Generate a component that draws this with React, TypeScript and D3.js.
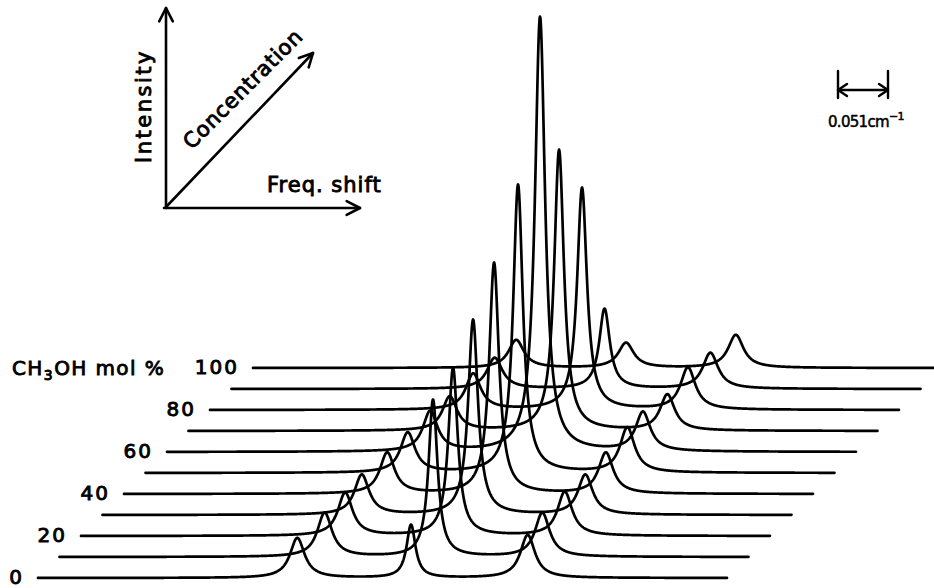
import React from "react";
import * as d3 from "d3";

// ---- data (frequency in cm^-1, intensity in arbitrary units) ----
const concentrations = [0, 10, 20, 30, 40, 50, 60, 70, 80, 90, 100];
const labeledConcentrations = [0, 20, 40, 60, 80, 100];
const rayleighShift = [0, 0.0005, -0.001, -0.0025, -0.003, -0.0005, 0, -0.0025, -0.001, 0, 0];
const rayleighHeight = [53, 157, 168, 195, 231, 288, 435, 281, 222, 80, 25];
const rayleighHwhm = [0.0055, 0.0055, 0.0058, 0.006, 0.006, 0.006, 0.0062, 0.006, 0.006, 0.0065, 0.0095];
const brillouinLeftShift = [-0.116, -0.110, -0.111, -0.116, -0.112, -0.113, -0.112, -0.114, -0.112, -0.112, -0.112];
const brillouinRightShift = [0.119, 0.112, 0.113, 0.112, 0.111, 0.111, 0.105, 0.108, 0.107, 0.108, 0.112];
const brillouinLeftHeight = [40, 44, 43, 40, 41, 40, 40, 34, 36, 31, 28];
const brillouinRightHeight = [43, 44, 44, 40, 41, 45, 39, 36, 42, 36, 33];
const brillouinHwhm = [0.009, 0.009, 0.009, 0.009, 0.009, 0.009, 0.009, 0.009, 0.0092, 0.0095, 0.0095];
const freqDomain = [-0.3805, 0.3223];
const scaleBarValue = 0.051;

const W = 934;
const H = 588;
const FONT = "'DejaVu Sans', sans-serif";

const freqScale = d3.scaleLinear().domain(freqDomain).range([38, 727]);
const depthX = d3.scaleLinear().domain([0, 100]).range([0, 215]);
const depthY = d3.scaleLinear().domain([0, 100]).range([578, 368]);
const intensityScale = d3.scaleLinear().domain([0, 450]).range([0, 450]);

const lorentz = (f: number, c: number, h: number, g: number) => h / (1 + ((f - c) / g) ** 2);

function spectrumPath(i: number) {
  const conc = concentrations[i];
  const x0 = depthX(conc);
  const base = depthY(conc);
  const pts: [number, number][] = [];
  const step = 0.0004;
  for (let f = freqDomain[0]; f <= freqDomain[1] + 1e-9; f += step) {
    const I =
      lorentz(f, rayleighShift[i], rayleighHeight[i], rayleighHwhm[i]) +
      lorentz(f, brillouinLeftShift[i], brillouinLeftHeight[i], brillouinHwhm[i]) +
      lorentz(f, brillouinRightShift[i], brillouinRightHeight[i], brillouinHwhm[i]);
    pts.push([freqScale(f) + x0, base - intensityScale(I)]);
  }
  return d3.line()(pts) as string;
}

function Arrow({ x1, y1, x2, y2 }: { x1: number; y1: number; x2: number; y2: number }) {
  const ang = Math.atan2(y2 - y1, x2 - x1);
  const L = 15;
  const a = (27 * Math.PI) / 180;
  const w1 = [x2 - L * Math.cos(ang - a), y2 - L * Math.sin(ang - a)];
  const w2 = [x2 - L * Math.cos(ang + a), y2 - L * Math.sin(ang + a)];
  return (
    <g stroke="#000" strokeWidth={2.6} fill="none" strokeLinecap="round" strokeLinejoin="round">
      <line x1={x1} y1={y1} x2={x2} y2={y2} />
      <polyline points={`${w1[0]},${w1[1]} ${x2},${y2} ${w2[0]},${w2[1]}`} />
    </g>
  );
}

export default function App() {
  const textStyle = { fontFamily: FONT, fill: "#000", stroke: "#000", strokeWidth: 0.9 } as const;
  const sbX0 = 838;
  const sbX1 = sbX0 + (freqScale(scaleBarValue) - freqScale(0));
  return (
    <svg width={W} height={H} style={{ position: "absolute", left: 0, top: 0, background: "#fff" }}>
      <rect width={W} height={H} fill="#fff" />
      {/* spectra */}
      <g fill="none" stroke="#000" strokeWidth={2.7} strokeLinejoin="round" strokeLinecap="round">
        {concentrations.map((c, i) => (
          <path key={c} d={spectrumPath(i)} />
        ))}
      </g>
      {/* concentration labels */}
      <g style={textStyle} fontSize={20} textAnchor="end" letterSpacing={2}>
        {labeledConcentrations.map((c) => (
          <text key={c} x={freqScale(freqDomain[0]) + depthX(c) - 14} y={depthY(c) + 6}>
            {c}
          </text>
        ))}
      </g>
      <text x={12} y={depthY(100) + 7} fontSize={20} style={textStyle} letterSpacing={1.4}>
        CH<tspan fontSize={14} dy={5}>3</tspan>
        <tspan dy={-5}>OH  mol %</tspan>
      </text>

      {/* axis diagram */}
      <Arrow x1={166} y1={208} x2={166} y2={8} />
      <Arrow x1={164} y1={208} x2={360} y2={208} />
      <Arrow x1={166} y1={207} x2={313} y2={53} />
      <text
        transform="translate(151,106) rotate(-90)"
        textAnchor="middle"
        fontSize={21}
        letterSpacing={2.5}
        style={textStyle}
      >
        Intensity
      </text>
      <text
        transform="translate(248,94) rotate(-45)"
        textAnchor="middle"
        fontSize={21}
        letterSpacing={0.8}
        style={textStyle}
      >
        Concentration
      </text>
      <text x={267} y={192} fontSize={21} letterSpacing={1} style={textStyle}>
        Freq. shift
      </text>

      {/* scale bar */}
      <g stroke="#000" strokeWidth={2.4} fill="none" strokeLinecap="round" strokeLinejoin="round">
        <line x1={sbX0} y1={71} x2={sbX0} y2={98} />
        <line x1={sbX1} y1={71} x2={sbX1} y2={98} />
        <line x1={sbX0} y1={90} x2={sbX1} y2={90} />
        <polyline points={`${sbX0 + 9},${84} ${sbX0},${90} ${sbX0 + 9},${96}`} />
        <polyline points={`${sbX1 - 9},${84} ${sbX1},${90} ${sbX1 - 9},${96}`} />
      </g>
      <text x={828} y={127} fontSize={15} letterSpacing={-0.7} style={{ ...textStyle, strokeWidth: 0.5 }}>
        0.051cm<tspan fontSize={11} dy={-7}>−1</tspan>
      </text>
    </svg>
  );
}
